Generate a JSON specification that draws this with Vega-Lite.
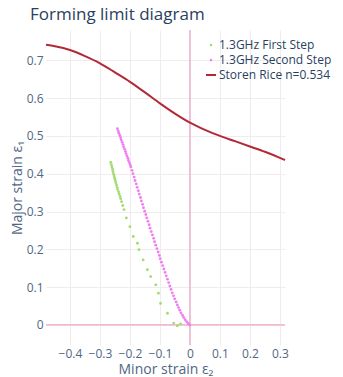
{
  "$schema": "https://vega.github.io/schema/vega-lite/v6.json",
  "width": 239,
  "height": 315,
  "autosize": "none",
  "padding": {"left": 46, "top": 30, "right": 58, "bottom": 32},
  "background": "white",
  "title": {"text": "Forming limit diagram", "anchor": "start", "dx": -16, "dy": 18, "fontSize": 17, "font": "Open Sans", "fontWeight": "normal", "color": "#2a3f5f", "offset": 10, "baseline": "alphabetic", "frame": "group"},
  "config": {"view": {"stroke": null}, "font": "Open Sans", "axis": {"labelOverlap": false}},
  "datasets": {
    "sr": [
      {"s": "Storen Rice n=0.534", "e2": -0.48, "e1": 0.741},
      {"s": "Storen Rice n=0.534", "e2": -0.45, "e1": 0.737},
      {"s": "Storen Rice n=0.534", "e2": -0.40, "e1": 0.727},
      {"s": "Storen Rice n=0.534", "e2": -0.35, "e1": 0.711},
      {"s": "Storen Rice n=0.534", "e2": -0.30, "e1": 0.692},
      {"s": "Storen Rice n=0.534", "e2": -0.25, "e1": 0.668},
      {"s": "Storen Rice n=0.534", "e2": -0.20, "e1": 0.643},
      {"s": "Storen Rice n=0.534", "e2": -0.15, "e1": 0.615},
      {"s": "Storen Rice n=0.534", "e2": -0.10, "e1": 0.586},
      {"s": "Storen Rice n=0.534", "e2": -0.05, "e1": 0.559},
      {"s": "Storen Rice n=0.534", "e2": 0.0, "e1": 0.535},
      {"s": "Storen Rice n=0.534", "e2": 0.05, "e1": 0.516},
      {"s": "Storen Rice n=0.534", "e2": 0.10, "e1": 0.500},
      {"s": "Storen Rice n=0.534", "e2": 0.15, "e1": 0.486},
      {"s": "Storen Rice n=0.534", "e2": 0.20, "e1": 0.472},
      {"s": "Storen Rice n=0.534", "e2": 0.25, "e1": 0.458},
      {"s": "Storen Rice n=0.534", "e2": 0.30, "e1": 0.442},
      {"s": "Storen Rice n=0.534", "e2": 0.317, "e1": 0.436}
    ],
    "pts": [
      {"s": "1.3GHz First Step", "e2": -0.264, "e1": 0.430},
      {"s": "1.3GHz First Step", "e2": -0.262, "e1": 0.424},
      {"s": "1.3GHz First Step", "e2": -0.260, "e1": 0.418},
      {"s": "1.3GHz First Step", "e2": -0.258, "e1": 0.412},
      {"s": "1.3GHz First Step", "e2": -0.257, "e1": 0.406},
      {"s": "1.3GHz First Step", "e2": -0.255, "e1": 0.400},
      {"s": "1.3GHz First Step", "e2": -0.253, "e1": 0.394},
      {"s": "1.3GHz First Step", "e2": -0.251, "e1": 0.388},
      {"s": "1.3GHz First Step", "e2": -0.249, "e1": 0.382},
      {"s": "1.3GHz First Step", "e2": -0.247, "e1": 0.376},
      {"s": "1.3GHz First Step", "e2": -0.245, "e1": 0.370},
      {"s": "1.3GHz First Step", "e2": -0.243, "e1": 0.364},
      {"s": "1.3GHz First Step", "e2": -0.241, "e1": 0.358},
      {"s": "1.3GHz First Step", "e2": -0.238, "e1": 0.352},
      {"s": "1.3GHz First Step", "e2": -0.236, "e1": 0.346},
      {"s": "1.3GHz First Step", "e2": -0.233, "e1": 0.340},
      {"s": "1.3GHz First Step", "e2": -0.231, "e1": 0.334},
      {"s": "1.3GHz First Step", "e2": -0.228, "e1": 0.326},
      {"s": "1.3GHz First Step", "e2": -0.224, "e1": 0.316},
      {"s": "1.3GHz First Step", "e2": -0.220, "e1": 0.305},
      {"s": "1.3GHz First Step", "e2": -0.212, "e1": 0.283},
      {"s": "1.3GHz First Step", "e2": -0.200, "e1": 0.260},
      {"s": "1.3GHz First Step", "e2": -0.189, "e1": 0.234},
      {"s": "1.3GHz First Step", "e2": -0.175, "e1": 0.216},
      {"s": "1.3GHz First Step", "e2": -0.170, "e1": 0.199},
      {"s": "1.3GHz First Step", "e2": -0.156, "e1": 0.172},
      {"s": "1.3GHz First Step", "e2": -0.142, "e1": 0.146},
      {"s": "1.3GHz First Step", "e2": -0.131, "e1": 0.128},
      {"s": "1.3GHz First Step", "e2": -0.114, "e1": 0.106},
      {"s": "1.3GHz First Step", "e2": -0.105, "e1": 0.084},
      {"s": "1.3GHz First Step", "e2": -0.098, "e1": 0.057},
      {"s": "1.3GHz First Step", "e2": -0.075, "e1": 0.031},
      {"s": "1.3GHz First Step", "e2": -0.054, "e1": 0.005},
      {"s": "1.3GHz First Step", "e2": -0.042, "e1": -0.002},
      {"s": "1.3GHz First Step", "e2": -0.031, "e1": 0.003},
      {"s": "1.3GHz Second Step", "e2": -0.242, "e1": 0.519},
      {"s": "1.3GHz Second Step", "e2": -0.239, "e1": 0.513},
      {"s": "1.3GHz Second Step", "e2": -0.237, "e1": 0.507},
      {"s": "1.3GHz Second Step", "e2": -0.234, "e1": 0.501},
      {"s": "1.3GHz Second Step", "e2": -0.231, "e1": 0.495},
      {"s": "1.3GHz Second Step", "e2": -0.229, "e1": 0.489},
      {"s": "1.3GHz Second Step", "e2": -0.226, "e1": 0.483},
      {"s": "1.3GHz Second Step", "e2": -0.223, "e1": 0.477},
      {"s": "1.3GHz Second Step", "e2": -0.221, "e1": 0.471},
      {"s": "1.3GHz Second Step", "e2": -0.218, "e1": 0.465},
      {"s": "1.3GHz Second Step", "e2": -0.215, "e1": 0.459},
      {"s": "1.3GHz Second Step", "e2": -0.213, "e1": 0.453},
      {"s": "1.3GHz Second Step", "e2": -0.210, "e1": 0.447},
      {"s": "1.3GHz Second Step", "e2": -0.207, "e1": 0.441},
      {"s": "1.3GHz Second Step", "e2": -0.205, "e1": 0.435},
      {"s": "1.3GHz Second Step", "e2": -0.202, "e1": 0.429},
      {"s": "1.3GHz Second Step", "e2": -0.199, "e1": 0.423},
      {"s": "1.3GHz Second Step", "e2": -0.197, "e1": 0.418},
      {"s": "1.3GHz Second Step", "e2": -0.193, "e1": 0.409},
      {"s": "1.3GHz Second Step", "e2": -0.190, "e1": 0.400},
      {"s": "1.3GHz Second Step", "e2": -0.186, "e1": 0.391},
      {"s": "1.3GHz Second Step", "e2": -0.183, "e1": 0.382},
      {"s": "1.3GHz Second Step", "e2": -0.179, "e1": 0.373},
      {"s": "1.3GHz Second Step", "e2": -0.176, "e1": 0.364},
      {"s": "1.3GHz Second Step", "e2": -0.172, "e1": 0.355},
      {"s": "1.3GHz Second Step", "e2": -0.169, "e1": 0.346},
      {"s": "1.3GHz Second Step", "e2": -0.165, "e1": 0.337},
      {"s": "1.3GHz Second Step", "e2": -0.162, "e1": 0.328},
      {"s": "1.3GHz Second Step", "e2": -0.158, "e1": 0.319},
      {"s": "1.3GHz Second Step", "e2": -0.155, "e1": 0.310},
      {"s": "1.3GHz Second Step", "e2": -0.151, "e1": 0.301},
      {"s": "1.3GHz Second Step", "e2": -0.147, "e1": 0.292},
      {"s": "1.3GHz Second Step", "e2": -0.144, "e1": 0.283},
      {"s": "1.3GHz Second Step", "e2": -0.140, "e1": 0.274},
      {"s": "1.3GHz Second Step", "e2": -0.136, "e1": 0.265},
      {"s": "1.3GHz Second Step", "e2": -0.133, "e1": 0.256},
      {"s": "1.3GHz Second Step", "e2": -0.129, "e1": 0.247},
      {"s": "1.3GHz Second Step", "e2": -0.125, "e1": 0.238},
      {"s": "1.3GHz Second Step", "e2": -0.121, "e1": 0.229},
      {"s": "1.3GHz Second Step", "e2": -0.118, "e1": 0.220},
      {"s": "1.3GHz Second Step", "e2": -0.114, "e1": 0.211},
      {"s": "1.3GHz Second Step", "e2": -0.110, "e1": 0.202},
      {"s": "1.3GHz Second Step", "e2": -0.106, "e1": 0.193},
      {"s": "1.3GHz Second Step", "e2": -0.102, "e1": 0.184},
      {"s": "1.3GHz Second Step", "e2": -0.099, "e1": 0.175},
      {"s": "1.3GHz Second Step", "e2": -0.095, "e1": 0.166},
      {"s": "1.3GHz Second Step", "e2": -0.091, "e1": 0.157},
      {"s": "1.3GHz Second Step", "e2": -0.087, "e1": 0.148},
      {"s": "1.3GHz Second Step", "e2": -0.083, "e1": 0.139},
      {"s": "1.3GHz Second Step", "e2": -0.079, "e1": 0.130},
      {"s": "1.3GHz Second Step", "e2": -0.075, "e1": 0.121},
      {"s": "1.3GHz Second Step", "e2": -0.071, "e1": 0.112},
      {"s": "1.3GHz Second Step", "e2": -0.067, "e1": 0.103},
      {"s": "1.3GHz Second Step", "e2": -0.063, "e1": 0.094},
      {"s": "1.3GHz Second Step", "e2": -0.059, "e1": 0.085},
      {"s": "1.3GHz Second Step", "e2": -0.055, "e1": 0.077},
      {"s": "1.3GHz Second Step", "e2": -0.051, "e1": 0.069},
      {"s": "1.3GHz Second Step", "e2": -0.046, "e1": 0.061},
      {"s": "1.3GHz Second Step", "e2": -0.042, "e1": 0.053},
      {"s": "1.3GHz Second Step", "e2": -0.038, "e1": 0.046},
      {"s": "1.3GHz Second Step", "e2": -0.034, "e1": 0.039},
      {"s": "1.3GHz Second Step", "e2": -0.030, "e1": 0.032},
      {"s": "1.3GHz Second Step", "e2": -0.025, "e1": 0.026},
      {"s": "1.3GHz Second Step", "e2": -0.021, "e1": 0.020},
      {"s": "1.3GHz Second Step", "e2": -0.016, "e1": 0.014},
      {"s": "1.3GHz Second Step", "e2": -0.011, "e1": 0.009},
      {"s": "1.3GHz Second Step", "e2": -0.006, "e1": 0.004},
      {"s": "1.3GHz Second Step", "e2": -0.001, "e1": 0.000}
    ]
  },
  "encoding": {
    "x": {"field": "e2", "type": "quantitative", "scale": {"domain": [-0.48, 0.317], "nice": false, "zero": false},
      "axis": {"values": [-0.4, -0.3, -0.2, -0.1, 0, 0.1, 0.2, 0.3], "format": ".1~f", "labelOverlap": false, "labelSeparation": 0, "title": "Minor strain ε₂", "domain": false, "ticks": false, "labelPadding": 3, "gridColor": "#f1ebee", "labelColor": "#506784", "labelFontSize": 12, "titleFontSize": 14, "titleColor": "#506784", "titleFontWeight": "normal", "titlePadding": 3}},
    "y": {"field": "e1", "type": "quantitative", "scale": {"domain": [-0.053, 0.78], "nice": false, "zero": false},
      "axis": {"values": [0, 0.1, 0.2, 0.3, 0.4, 0.5, 0.6, 0.7], "format": ".1~f", "labelOverlap": false, "title": "Major strain ε₁", "domain": false, "ticks": false, "labelPadding": 3, "gridColor": "#f1ebee", "labelColor": "#506784", "labelFontSize": 12, "titleFontSize": 14, "titleColor": "#506784", "titleFontWeight": "normal", "titlePadding": 2}},
    "color": {"field": "s", "type": "nominal",
      "scale": {"domain": ["1.3GHz First Step", "1.3GHz Second Step", "Storen Rice n=0.534"], "range": ["#a3dc6e", "#f07ef0", "#b22a37"]},
      "legend": {"title": null, "orient": "none", "legendX": 159, "legendY": 9, "padding": 0, "labelFontSize": 12, "labelColor": "#2a3f5f", "labelFont": "Open Sans", "symbolSize": 100, "labelOffset": 2, "rowPadding": 3,
        "encode": {"symbols": {"update": {
          "stroke": {"scale": "color", "field": "value"},
          "strokeWidth": {"signal": "datum.value === 'Storen Rice n=0.534' ? 2 : 0"},
          "size": {"signal": "datum.value === 'Storen Rice n=0.534' ? 100 : 6"}
        }}}}}
  },
  "layer": [
    {
      "data": {"values": [{"e2": 0}]},
      "mark": {"type": "rule", "color": "#efbcd4", "strokeWidth": 1.8},
      "encoding": {"y": null, "color": null}
    },
    {
      "data": {"values": [{"e1": 0}]},
      "mark": {"type": "rule", "color": "#efbcd4", "strokeWidth": 1.8},
      "encoding": {"x": null, "color": null}
    },
    {
      "data": {"name": "sr"},
      "mark": {"type": "line", "strokeWidth": 2, "interpolate": "monotone"}
    },
    {
      "data": {"name": "pts"},
      "mark": {"type": "point", "filled": true, "size": 8, "opacity": 1},
      "encoding": {
        "shape": {"field": "s", "type": "nominal", "scale": {"domain": ["1.3GHz First Step", "1.3GHz Second Step", "Storen Rice n=0.534"], "range": ["circle", "circle", "stroke"]}}
      }
    }
  ]
}
